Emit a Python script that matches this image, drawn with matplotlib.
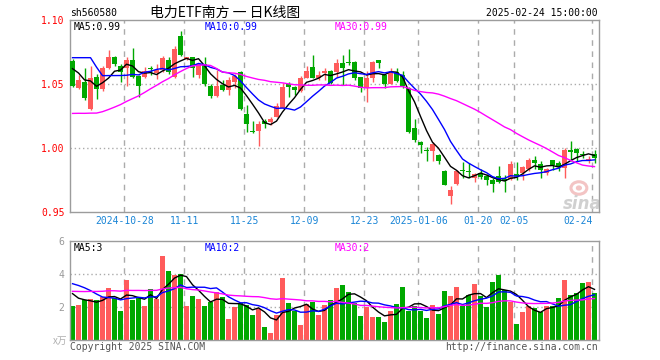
import matplotlib.pyplot as plt
from matplotlib.patches import Ellipse
import numpy as np
import pandas as pd

plt.rcParams['font.family'] = ['DejaVu Sans Mono', 'Noto Sans CJK SC']

# daily K-line, 2024-10-15 .. 2025-02-24 (88 trading days)
opens = [1.068, 1.047, 1.052, 1.031, 1.056, 1.046, 1.063, 1.071, 1.064, 1.0625,
         1.0688, 1.0565, 1.0557, 1.0625, 1.059, 1.061, 1.0688, 1.056, 1.0878, 1.0695,
         1.071, 1.057, 1.0656, 1.0487, 1.041, 1.0495, 1.0456, 1.052, 1.0594, 1.0268,
         1.0133, 1.0135, 1.0214, 1.0208, 1.0247, 1.0318, 1.050, 1.0482, 1.0448, 1.0547,
         1.0638, 1.0547, 1.059, 1.0604, 1.0599, 1.067, 1.0672, 1.0672, 1.0555, 1.0474,
         1.0547, 1.069, 1.0573, 1.0503, 1.0594, 1.0573, 1.047, 1.0156, 1.0049, 0.9979,
         0.998, 0.9943, 0.9818, 0.9628, 0.972, 0.982, 0.9823, 0.9766, 0.9805, 0.9784,
         0.975, 0.9784, 0.976, 0.9758, 0.9797, 0.9807, 0.9839, 0.991, 0.9875, 0.9805,
         0.9904, 0.9883, 0.9844, 0.9987, 0.9995, 0.9953, 0.9896, 0.9953]
closes = [1.049, 1.053, 1.039, 1.055, 1.046, 1.063, 1.071, 1.066, 1.0594, 1.069,
          1.056, 1.0487, 1.0604, 1.0617, 1.061, 1.0703, 1.0594, 1.0776, 1.0729, 1.071,
          1.0625, 1.066, 1.0503, 1.0411, 1.049, 1.0456, 1.0534, 1.0565, 1.0307, 1.019,
          1.0125, 1.019, 1.019, 1.0227, 1.0326, 1.0482, 1.0482, 1.0456, 1.0552, 1.0604,
          1.0552, 1.0573, 1.0604, 1.0508, 1.067, 1.0625, 1.0664, 1.0552, 1.0474, 1.0547,
          1.0674, 1.067, 1.0503, 1.0599, 1.0529, 1.049, 1.013, 1.0065, 1.0026, 0.9977,
          1.003, 0.9896, 0.9714, 0.9669, 0.9823, 0.9818, 0.9813, 0.9797, 0.9773, 0.9747,
          0.9719, 0.9734, 0.974, 0.9878, 0.9784, 0.9854, 0.991, 0.988, 0.9825, 0.9836,
          0.987, 0.9849, 0.9987, 0.9966, 0.9958, 0.9948, 0.9917, 0.9925]
highs = [1.070, 1.057, 1.063, 1.064, 1.058, 1.064, 1.077, 1.072, 1.066, 1.0716,
         1.078, 1.057, 1.0638, 1.064, 1.066, 1.072, 1.071, 1.080, 1.0919, 1.0716,
         1.0716, 1.067, 1.071, 1.050, 1.061, 1.053, 1.056, 1.058, 1.0604, 1.034,
         1.021, 1.0214, 1.023, 1.0242, 1.035, 1.0508, 1.052, 1.049, 1.0565, 1.0643,
         1.0729, 1.060, 1.063, 1.061, 1.0695, 1.0729, 1.0773, 1.068, 1.056, 1.060,
         1.068, 1.069, 1.058, 1.0625, 1.063, 1.0604, 1.048, 1.0227, 1.0057, 1.001,
         1.005, 0.9953, 0.983, 0.9706, 0.983, 0.9888, 0.9883, 0.9805, 0.984, 0.9797,
         0.977, 0.9862, 0.979, 0.9896, 0.9888, 0.986, 0.9922, 0.9935, 0.9896, 0.9844,
         0.991, 0.9896, 1.0, 1.0057, 1.0, 0.9974, 0.9935, 0.9987]
lows = [1.048, 1.046, 1.038, 1.030, 1.0385, 1.045, 1.062, 1.064, 1.052, 1.0487,
        1.0547, 1.040, 1.055, 1.0573, 1.0545, 1.0595, 1.058, 1.055, 1.0725, 1.069,
        1.0555, 1.055, 1.049, 1.039, 1.040, 1.0445, 1.0417, 1.0472, 1.030, 1.0125,
        1.0117, 1.002, 1.016, 1.018, 1.024, 1.0313, 1.040, 1.0417, 1.044, 1.0547,
        1.0547, 1.0534, 1.0534, 1.050, 1.056, 1.0495, 1.065, 1.053, 1.0437, 1.0365,
        1.052, 1.0625, 1.0474, 1.050, 1.052, 1.047, 1.012, 1.005, 0.996, 0.990,
        0.990, 0.9875, 0.971, 0.9565, 0.971, 0.9766, 0.9766, 0.9732, 0.976, 0.9708,
        0.966, 0.9727, 0.966, 0.9753, 0.9753, 0.9753, 0.9818, 0.9839, 0.977, 0.979,
        0.983, 0.982, 0.9766, 0.9896, 0.9896, 0.9922, 0.9883, 0.9883]
# volume, 10k lots
volumes = [2.06, 2.12, 2.42, 2.5, 2.42, 2.6, 3.15, 2.55, 1.75, 3.62,
           2.42, 2.56, 2.06, 3.1, 2.5, 5.12, 4.16, 3.92, 3.98, 2.06,
           2.66, 2.5, 2.06, 2.3, 2.9, 2.6, 1.3, 2.0, 2.26, 2.12,
           1.5, 1.9, 0.8, 0.45, 1.5, 3.75, 2.25, 1.8, 0.9, 2.2,
           2.3, 1.52, 2.12, 2.42, 3.14, 3.32, 2.9, 2.26, 1.46, 2.02,
           1.4, 1.4, 1.1, 1.76, 2.18, 3.2, 1.76, 2.1, 1.8, 1.34,
           2.12, 1.6, 2.96, 2.66, 3.2, 2.06, 2.76, 3.4, 2.7, 2.0,
           3.5, 3.96, 3.06, 2.34, 0.98, 1.74, 2.06, 1.96, 1.7, 2.1,
           2.1, 2.54, 3.66, 2.72, 2.86, 3.44, 3.52, 2.84]

# 29 sessions before the window, only used to seed the moving averages
prev_close = [1.05, 1.04, 1.05, 1.045, 1.03, 1.02, 1.01, 1.00, 0.995, 0.99,
              0.985, 0.98, 0.975, 0.98, 0.985, 0.985, 0.99, 0.995, 1.0, 1.002,
              1.053, 1.039, 1.055, 1.12, 1.13, 1.07, 1.066, 1.059, 1.067]
prev_vol = [2.4, 2.6, 2.2, 2.5, 2.3, 2.1, 2.7, 2.4, 2.2, 2.6,
            2.5, 2.3, 2.8, 2.4, 2.6, 2.5, 3.3, 3.4, 4.6, 4.2,
            3.2, 3.8, 4.2, 4.5, 4.4, 3.5, 2.9, 2.8, 2.84]

tick_idx = [9, 19, 29, 39, 49, 58, 68, 74, 87]
tick_labels = ['2024-10-28', '11-11', '11-25', '12-09', '12-23',
               '2025-01-06', '01-20', '02-05', '02-24']

RED = '#FF5B5B'
GREEN = '#00A800'
GRID = '#ABABAB'
FRAME = '#9C9C9C'
MA_COLORS = {5: 'black', 10: '#0000FF', 30: '#FF00FF'}

n = len(closes)
c_all = pd.Series(prev_close + closes)
v_all = pd.Series(prev_vol + volumes)
ma = {k: c_all.rolling(k).mean().values[-n:] for k in MA_COLORS}
vma = {k: v_all.rolling(k).mean().values[-n:] for k in MA_COLORS}

o, h, l, c = (np.array(a) for a in (opens, highs, lows, closes))
x = np.arange(n)
cols = np.where(c >= o, RED, GREEN)

fig = plt.figure(figsize=(6.6, 3.6), dpi=100)
ax = fig.add_axes([70 / 660, 148 / 360, 529 / 660, 192 / 360])
axv = fig.add_axes([70 / 660, 19.7 / 360, 529 / 660, 99.3 / 360])

for a in (ax, axv):
    a.set_xlim(-0.42, 87.75)
    for s in a.spines.values():
        s.set_color(FRAME)
        s.set_linewidth(1)
    a.tick_params(length=0)
    for t in tick_idx:
        a.axvline(t - 0.35, color=GRID, lw=1, ls=(0, (4, 4)), zorder=0)

# price panel
ax.set_ylim(0.9505, 1.1003)
for y in (1.0, 1.05):
    ax.axhline(y, color=GRID, lw=1, ls=(0, (1, 2)), zorder=0)
ax.vlines(x, l, h, colors=cols, lw=1, zorder=2)
ax.bar(x, np.maximum(np.abs(c - o), 0.0008), bottom=np.minimum(o, c),
       width=0.78, color=cols, linewidth=0, zorder=3)
for k, col in MA_COLORS.items():
    ax.plot(x, ma[k], color=col, lw=1, zorder=4)

ax.set_yticks([0.95, 1.0, 1.05, 1.10])
ax.set_yticklabels(['%.2f' % v for v in (0.95, 1.0, 1.05, 1.10)],
                   color='#FF0000', fontsize=7)
ax.tick_params(axis='y', pad=4)
ax.set_xticks(np.array(tick_idx) - 0.35)
ax.set_xticklabels(tick_labels, color='#1A85D6', fontsize=7)
ax.tick_params(axis='x', pad=3)
ax.get_xticklabels()[-1].set_ha('right')

ax.text(0.007, 0.99, 'MA5:%.2f' % ma[5][-1], transform=ax.transAxes,
        va='top', fontsize=7, color='black')
ax.text(0.255, 0.99, 'MA10:%.2f' % ma[10][-1], transform=ax.transAxes,
        va='top', fontsize=7, color=MA_COLORS[10])
ax.text(0.501, 0.99, 'MA30:%.2f' % ma[30][-1], transform=ax.transAxes,
        va='top', fontsize=7, color=MA_COLORS[30])

# sina watermark
ax.add_patch(Ellipse((0.962, 0.125), 0.03, 0.065, transform=ax.transAxes,
                     fill=False, ec='#F3C4C4', lw=2.2, zorder=1))
ax.add_patch(Ellipse((0.962, 0.125), 0.009, 0.02, transform=ax.transAxes,
                     color='#F3C4C4', zorder=1))
ax.text(1.005, -0.005, 'sina', transform=ax.transAxes, ha='right', va='bottom',
        fontsize=12, fontweight='bold', fontstyle='italic', color='#D0D0D0',
        family='DejaVu Sans', zorder=1, clip_on=True)

# volume panel
axv.set_ylim(0, 6)
for y in (2, 4):
    axv.axhline(y, color=GRID, lw=1, ls=(0, (1, 2)), zorder=0)
axv.bar(x, volumes, width=0.82, color=cols, linewidth=0, zorder=2)
for k, col in MA_COLORS.items():
    axv.plot(x, vma[k], color=col, lw=1, zorder=3)
axv.set_xticks([])
axv.set_yticks([2, 4, 6])
axv.set_yticklabels(['2', '4', '6'], color='#999999', fontsize=7)
axv.tick_params(axis='y', pad=4)
axv.text(-0.005, -0.01, 'x万', transform=axv.transAxes, ha='right', va='center',
         fontsize=7, color='#B0B0B0', family=['Noto Sans CJK SC'])

axv.text(0.007, 0.975, 'MA5:%d' % int(vma[5][-1]), transform=axv.transAxes,
         va='top', fontsize=7, color='black')
axv.text(0.255, 0.975, 'MA10:%d' % int(vma[10][-1]), transform=axv.transAxes,
         va='top', fontsize=7, color=MA_COLORS[10])
axv.text(0.501, 0.975, 'MA30:%d' % int(vma[30][-1]), transform=axv.transAxes,
         va='top', fontsize=7, color=MA_COLORS[30])

# header / footer
fig.text(70 / 660, 1 - 13 / 360, 'sh560580', fontsize=7, va='center', color='black')
fig.text(225 / 660, 1 - 13 / 360, '电力ETF南方 一 日K线图', fontsize=10, ha='center',
         va='center', color='black', family=['Noto Sans CJK SC'])
fig.text(598 / 660, 1 - 13 / 360, '2025-02-24 15:00:00', fontsize=7, ha='right',
         va='center', color='black')
fig.text(70 / 660, 1 - 347 / 360, 'Copyright 2025 SINA.COM', fontsize=7,
         va='center', color='#555555')
fig.text(598 / 660, 1 - 347 / 360, 'http://finance.sina.com.cn', fontsize=7,
         ha='right', va='center', color='#555555')

fig.savefig('out.png', dpi=100, facecolor='white')
